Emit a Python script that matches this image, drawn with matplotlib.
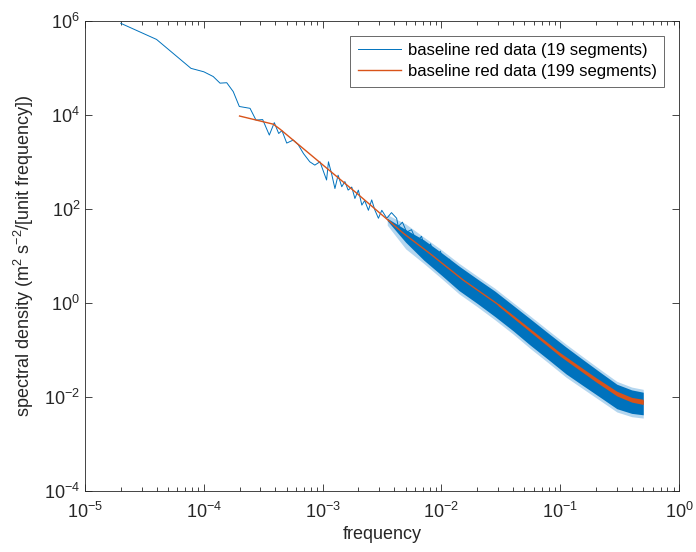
import matplotlib
matplotlib.use("Agg")
import matplotlib.pyplot as plt
import numpy as np
from matplotlib.ticker import LogLocator, NullLocator

# 19-segment estimate, low-frequency part
blue_freq = [2e-5, 4e-5, 7.8e-5, 1e-4, 1.2e-4, 1.37e-4, 1.56e-4, 1.77e-4, 1.99e-4,
             2.45e-4, 2.75e-4, 3.13e-4, 3.56e-4, 3.92e-4, 4.27e-4, 4.55e-4, 4.99e-4,
             5.66e-4, 6.24e-4, 6.9e-4, 7.8e-4, 8.6e-4, 9.5e-4, 1.08e-3, 1.12e-3,
             1.19e-3, 1.27e-3, 1.35e-3, 1.45e-3, 1.54e-3, 1.64e-3, 1.76e-3, 1.87e-3,
             2.0e-3, 2.14e-3, 2.26e-3, 2.43e-3, 2.59e-3, 2.75e-3, 2.95e-3, 3.15e-3,
             3.47e-3, 3.8e-3, 4.2e-3, 4.33e-3, 4.7e-3, 5.1e-3, 5.6e-3, 6.2e-3,
             6.8e-3, 7.4e-3, 8.1e-3, 8.9e-3, 9.8e-3, 1.07e-2, 1.17e-2, 1.28e-2,
             1.4e-2, 1.53e-2, 1.66e-2]
blue_psd = [8.8e5, 4.0e5, 9.7e4, 8.2e4, 6.5e4, 4.7e4, 4.8e4, 3.1e4, 1.5e4,
            1.37e4, 7.7e3, 7.9e3, 3.7e3, 6.8e3, 4.0e3, 4.6e3, 2.5e3,
            2.9e3, 2.3e3, 1.5e3, 1.0e3, 850, 1.0e3, 410, 1.0e3,
            560, 270, 520, 295, 380, 250, 290, 166,
            250, 120, 150, 93, 155, 95, 63, 93,
            63, 83, 63, 42, 52, 32, 36, 20,
            26, 13, 18, 8.9, 12.6, 5.5, 8.5, 4.0,
            5.8, 2.4, 3.9]

# 19-segment estimate, dense noisy part: spike extremes and solid core
band_freq = [3.5e-3, 5e-3, 7.1e-3, 1e-2, 1.41e-2, 2e-2, 2.82e-2, 4e-2, 5.6e-2,
             7.9e-2, 0.112, 0.158, 0.224, 0.3, 0.4, 0.5]
band_hi = [75, 47.9, 25.1, 13.5, 6.92, 3.72, 2.04, 1.02, 0.525,
           0.263, 0.132, 0.0692, 0.0363, 0.0214, 0.0162, 0.0145]
band_lo = [45, 14.1, 6.92, 3.31, 1.55, 0.832, 0.437, 0.219, 0.107,
           0.0537, 0.0263, 0.0145, 0.00794, 0.00479, 0.0038, 0.00355]
core_hi = [63, 36.3, 21.9, 11.7, 6.03, 3.24, 1.78, 0.891, 0.457,
           0.229, 0.115, 0.0603, 0.0316, 0.0186, 0.0141, 0.0126]
core_lo = [56, 19.5, 8.13, 3.89, 1.82, 0.977, 0.513, 0.257, 0.126,
           0.0631, 0.0309, 0.017, 0.00933, 0.00562, 0.00447, 0.00417]

# 199-segment estimate
red_freq = [2e-4, 3.85e-4, 4.4e-4, 1.94e-3, 4.8e-3, 8.0e-3, 1.53e-2, 2.92e-2,
            5.57e-2, 0.106, 0.203, 0.30, 0.386, 0.5]
red_psd = [9.4e3, 6.3e3, 4.9e3, 214, 30, 11.2, 3.04, 0.97,
           0.263, 0.0708, 0.0226, 0.0117, 0.0088, 0.0078]
# its own jitter at high frequency, which makes the line look thicker
red_band_freq = [0.03, 0.06, 0.1, 0.2, 0.3, 0.4, 0.5]
red_band_hi = [0.977, 0.245, 0.0871, 0.0257, 0.0132, 0.00977, 0.00891]
red_band_lo = [0.871, 0.209, 0.0733, 0.0209, 0.0105, 0.00776, 0.00692]

BLUE = "#0072BD"
ORANGE = "#D95319"
AXIS = "#262626"

plt.rcParams.update({
    "font.family": ["Liberation Sans", "DejaVu Sans"],
    "mathtext.default": "regular",
    "font.size": 12,
})

fig = plt.figure(figsize=(6.96, 5.52), dpi=100)
ax = fig.add_axes([85 / 696, 1 - 491 / 552, 594 / 696, 470.3 / 552])

ax.fill_between(band_freq, band_lo, band_hi, color="#6aaee0", alpha=0.5,
                linewidth=0, zorder=2)
ax.fill_between(band_freq, core_lo, core_hi, color=BLUE, linewidth=0, zorder=2)
ax.plot(blue_freq, blue_psd, color=BLUE, lw=0.7, zorder=3,
        label="baseline red data (19 segments)")
ax.fill_between(red_band_freq, red_band_lo, red_band_hi, color=ORANGE,
                linewidth=0, zorder=4)
ax.plot(red_freq, red_psd, color=ORANGE, lw=1.0, zorder=4,
        label="baseline red data (199 segments)")

ax.set_xscale("log")
ax.set_yscale("log")
ax.set_xlim(1e-5, 1)
ax.set_ylim(1e-4, 1e6)
ax.xaxis.set_major_locator(LogLocator(base=10, numticks=20))
ax.xaxis.set_minor_locator(LogLocator(base=10, subs=np.arange(2, 10), numticks=20))
ax.yaxis.set_major_locator(LogLocator(base=100, numticks=20))
ax.yaxis.set_minor_locator(NullLocator())

ax.tick_params(which="both", direction="in", top=True, right=True,
               colors=AXIS, labelcolor="#262626", width=0.6)
ax.tick_params(which="major", length=5, labelsize=13)
ax.tick_params(which="minor", length=3)
ax.tick_params(axis="x", pad=8)
for s in ax.spines.values():
    s.set_color(AXIS)
    s.set_linewidth(0.6)

ax.set_xlabel("frequency", fontsize=13, color="#262626", labelpad=3)
ax.set_ylabel("spectral density (m$^2$ s$^{-2}$/[unit frequency])", fontsize=13,
              color="#262626", labelpad=6)

leg = ax.legend(loc="upper right", fontsize=12, frameon=True, fancybox=False,
                borderaxespad=0.9, handlelength=2.6, handletextpad=0.4,
                labelspacing=0.35, borderpad=0.45)
leg.get_frame().set_edgecolor(AXIS)
leg.get_frame().set_linewidth(0.6)

fig.savefig("out.png", dpi=100)
